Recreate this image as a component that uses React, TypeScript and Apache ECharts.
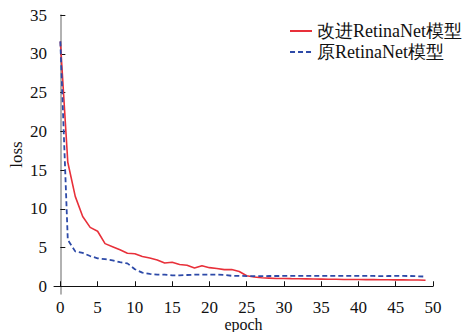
import React, { useEffect, useRef } from "react";
import * as echarts from "echarts";

const epochs = Array.from({ length: 50 }, (_, i) => i);
const improvedLoss = [
  31.6, 16.0, 11.6, 9.0, 7.6, 7.1, 5.5, 5.1, 4.7, 4.25,
  4.2, 3.85, 3.65, 3.4, 3.0, 3.1, 2.8, 2.7, 2.35, 2.65,
  2.4, 2.3, 2.15, 2.15, 1.9, 1.35, 1.2, 1.1, 1.05, 1.0,
  1.0, 0.98, 0.97, 0.95, 0.93, 0.92, 0.9, 0.9, 0.88, 0.88,
  0.87, 0.86, 0.85, 0.84, 0.83, 0.82, 0.82, 0.8, 0.8, 0.78,
];
const originalLoss = [
  31.6, 6.0, 4.5, 4.3, 3.9, 3.6, 3.5, 3.35, 3.1, 2.95,
  2.2, 1.75, 1.6, 1.5, 1.5, 1.4, 1.4, 1.45, 1.5, 1.5,
  1.5, 1.5, 1.45, 1.35, 1.35, 1.3, 1.3, 1.3, 1.32, 1.32,
  1.33, 1.33, 1.33, 1.34, 1.34, 1.35, 1.34, 1.34, 1.35, 1.35,
  1.34, 1.33, 1.33, 1.3, 1.32, 1.33, 1.33, 1.32, 1.28, 1.25,
];
const yTicks = [0, 5, 10, 15, 20, 25, 30, 35];
const xTicks = [0, 5, 10, 15, 20, 25, 30, 35, 40, 45, 50];

const FONT = "Liberation Serif";

export default function App() {
  const ref = useRef<HTMLDivElement>(null);
  useEffect(() => {
    if (!ref.current) return;
    const chart = echarts.init(ref.current, undefined, { renderer: "svg" });
    chart.setOption({
      animation: false,
      backgroundColor: "#ffffff",
      textStyle: { fontFamily: FONT },
      grid: { left: 54, top: 15, right: 40, bottom: 38, containLabel: false, outerBoundsMode: "none" },
      legend: {
        orient: "vertical",
        right: 6,
        top: 17,
        itemWidth: 22,
        itemHeight: 10,
        itemGap: 3,
        itemStyle: { opacity: 0 },
        textStyle: { fontFamily: FONT, fontSize: 18, color: "#111" },
        data: ["改进RetinaNet模型", "原RetinaNet模型"],
      },
      xAxis: {
        type: "value",
        min: -0.85,
        max: 50,
        name: "epoch",
        nameLocation: "middle",
        nameGap: 22,
        nameMoveOverlap: false,
        nameTextStyle: { fontFamily: FONT, fontSize: 16, color: "#111", lineHeight: 16 },
        axisLine: { show: true, lineStyle: { color: "#111", width: 1 } },
        axisTick: { show: true, inside: true, length: 5, customValues: xTicks, lineStyle: { color: "#111" } },
        axisLabel: { customValues: xTicks, fontFamily: FONT, fontSize: 17, color: "#111", margin: 5, lineHeight: 17 },
        splitLine: { show: false },
      },
      yAxis: {
        type: "value",
        min: -1.0,
        max: 35,
        name: "loss",
        nameLocation: "middle",
        nameGap: 29,
        nameMoveOverlap: false,
        nameTextStyle: { fontFamily: FONT, fontSize: 17, color: "#111" },
        axisLine: { show: true, lineStyle: { color: "#999", width: 1.5 } },
        axisTick: { show: true, inside: true, length: 5, customValues: yTicks, lineStyle: { color: "#111" } },
        axisLabel: { customValues: yTicks, fontFamily: FONT, fontSize: 17, color: "#111", margin: 7 },
        splitLine: { show: false },
      },
      series: [
        {
          name: "改进RetinaNet模型",
          type: "line",
          data: epochs.map((e, i) => [e, improvedLoss[i]]),
          symbol: "none",
          lineStyle: { color: "#e8303a", width: 1.6 },
          itemStyle: { color: "#e8303a" },
        },
        {
          name: "原RetinaNet模型",
          type: "line",
          data: epochs.map((e, i) => [e, originalLoss[i]]),
          symbol: "none",
          lineStyle: { color: "#2d4aa8", width: 1.8, type: [5, 3] },
          itemStyle: { color: "#2d4aa8" },
        },
      ],
    });
    return () => chart.dispose();
  }, []);
  return (
    <div
      ref={ref}
      style={{ position: "absolute", left: 0, top: 0, width: 473, height: 332 }}
    />
  );
}
